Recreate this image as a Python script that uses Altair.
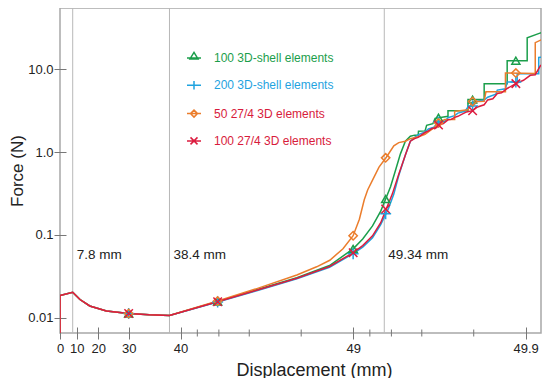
import altair as alt
import pandas as pd

FONT = "Liberation Sans, Arial, Helvetica, sans-serif"

SERIES = ["100 3D-shell elements", "200 3D-shell elements",
          "50 27/4 3D elements", "100 27/4 3D elements"]
COLORS = ["#1b9e4b", "#1fa3df", "#eb7d2c", "#dc1c3f"]

# shared first part of every curve (displacement mm, force N)
BASE_DISP = [0, 0, 7.8, 10.0, 11.7, 16.4, 23.1, 30, 34.8, 38.4]
BASE_FORCE = [0.001, 0.0184, 0.0202, 0.0181, 0.0165, 0.0138, 0.0120, 0.0112, 0.0108, 0.0106]

GREEN_DISP = [43.9, 46.42, 47.88, 48.63, 49.0, 49.12, 49.228, 49.308, 49.352, 49.393, 49.432,
              49.468, 49.502, 49.534, 49.56, 49.58, 49.582, 49.617, 49.625, 49.655, 49.665,
              49.718, 49.718, 49.784, 49.784, 49.826, 49.826, 49.872, 49.872, 49.902, 49.902,
              49.918, 49.93]
GREEN_FORCE = [0.0156, 0.0218, 0.0303, 0.0425, 0.0676, 0.089, 0.128, 0.193, 0.27, 0.381, 0.602,
               0.95, 1.35, 1.55, 1.60, 1.60, 1.78, 1.80, 2.1, 2.2, 2.55,
               2.70, 3.16, 3.16, 4.3, 4.3, 6.7, 6.7, 12.7, 12.7, 24.0,
               27.5, 28.5]

BLUE_DISP = [43.9, 46.42, 47.88, 48.63, 49.0, 49.12, 49.228, 49.308, 49.377, 49.419, 49.456,
             49.502, 49.534, 49.56, 49.582, 49.617, 49.634, 49.66, 49.68, 49.706, 49.718,
             49.742, 49.753, 49.775, 49.784, 49.797, 49.81, 49.826, 49.834, 49.851, 49.854,
             49.869, 49.872, 49.888, 49.888, 49.916, 49.916, 49.93]
BLUE_FORCE = [0.0154, 0.0212, 0.0293, 0.0405, 0.059, 0.071, 0.092, 0.133, 0.21, 0.31, 0.52,
              0.92, 1.35, 1.50, 1.62, 1.75, 1.90, 2.0, 2.3, 2.35, 2.6,
              2.75, 2.95, 3.1, 3.5, 3.6, 4.1, 4.25, 4.6, 5.0, 5.6,
              5.8, 7.0, 7.0, 8.8, 8.8, 13.9, 14.2]

ORANGE_DISP = [43.9, 46.42, 47.88, 48.373, 48.634, 48.855, 49.0, 49.08, 49.138, 49.176, 49.228,
               49.292, 49.358, 49.419, 49.456, 49.502, 49.534, 49.564, 49.59, 49.617, 49.64,
               49.66, 49.679, 49.706, 49.742, 49.742, 49.784, 49.797, 49.81, 49.826, 49.830,
               49.869, 49.869, 49.912, 49.912, 49.918, 49.93]
ORANGE_FORCE = [0.0158, 0.0225, 0.0326, 0.0410, 0.0492, 0.0677, 0.0973, 0.154, 0.265, 0.348, 0.458,
                0.658, 0.865, 1.19, 1.30, 1.35, 1.45, 1.50, 1.55, 1.64, 1.80,
                1.95, 2.25, 2.47, 2.47, 3.10, 3.24, 4.07, 4.07, 4.1, 5.35,
                5.35, 9.0, 8.9, 21.0, 22.5, 23.5]

RED_DISP = [43.9, 46.42, 47.88, 48.63, 49.0, 49.12, 49.228, 49.308, 49.358, 49.407, 49.456,
            49.502, 49.534, 49.56, 49.58, 49.60, 49.617, 49.634, 49.65, 49.672, 49.68,
            49.70, 49.718, 49.73, 49.742, 49.753, 49.765, 49.78, 49.797, 49.81, 49.826,
            49.834, 49.845, 49.854, 49.862, 49.872, 49.886, 49.897, 49.906, 49.912, 49.918,
            49.93]
RED_FORCE = [0.0155, 0.0215, 0.0298, 0.0414, 0.0607, 0.074, 0.097, 0.140, 0.206, 0.31, 0.54,
             0.92, 1.35, 1.45, 1.50, 1.62, 1.72, 1.80, 1.92, 1.97, 2.12,
             2.20, 2.45, 2.48, 2.62, 2.70, 2.85, 3.05, 3.16, 3.50, 3.72,
             4.26, 4.40, 5.1, 5.2, 5.86, 6.71, 7.36, 8.45, 8.6, 11.1,
             11.5]

# marker positions
MARK_DISP = [30, 43.9, 49.0, 49.352, 49.68, 49.797, 49.886]
GREEN_MARK = [0.0112, 0.0156, 0.0676, 0.27, 2.6, 4.3, 12.7]
BLUE_MARK = [0.0112, 0.0154, 0.059, 0.18, 2.3, 3.6, 7.0]
ORANGE_MARK = [0.0112, 0.0158, 0.0973, 0.85, 2.25, 4.07, 9.0]
RED_MARK = [0.0112, 0.0155, 0.0607, 0.205, 2.12, 3.16, 6.71]

ANNOT_DISP = [7.8, 38.4, 49.34]
ANNOT_TEXT = ["7.8 mm", "38.4 mm", "49.34 mm"]

X_TICKS = [0, 10, 20, 30, 40, 49, 49.9]
X_MINOR = [42, 44, 46, 48, 49.2, 49.4, 49.6, 49.8]
Y_TICKS = [0.01, 0.1, 1, 10]

TAILS = [(GREEN_DISP, GREEN_FORCE), (BLUE_DISP, BLUE_FORCE),
         (ORANGE_DISP, ORANGE_FORCE), (RED_DISP, RED_FORCE)]
MARKS = [GREEN_MARK, BLUE_MARK, ORANGE_MARK, RED_MARK]

rows = []
for s, (d, f) in zip(SERIES, TAILS):
    for xv, yv in zip(BASE_DISP + d, BASE_FORCE + f):
        rows.append({"series": s, "disp": xv, "force": yv})
lines_df = pd.DataFrame(rows)
lines_df["idx"] = range(len(lines_df))

mrows = []
for s, m in zip(SERIES, MARKS):
    for xv, yv in zip(MARK_DISP, m):
        mrows.append({"series": s, "disp": xv, "force": yv})
marks_df = pd.DataFrame(mrows)

annot_df = pd.DataFrame({"disp": ANNOT_DISP, "label": ANNOT_TEXT})
minor_df = pd.DataFrame({"disp": X_MINOR})

WIDTH, HEIGHT = 481, 325
END = 50.0  # displacement axis is logarithmic in (50 - displacement)

x_scale = alt.Scale(type="log", domain=[0.0815, 50], reverse=True, nice=False, zero=False)
y_scale = alt.Scale(type="log", domain=[0.0065, 55], nice=False, zero=False)

x_axis = alt.Axis(values=[END - v for v in X_TICKS],
                  labelExpr="format(50 - datum.value, '.4~g')",
                  offset=-6, tickSize=12, domain=False, grid=False, labelPadding=3,
                  labelFlush=False, labelOverlap=False, labelFontSize=13, labelFont=FONT,
                  labelColor="#222", tickColor="#777", titleFontSize=18, titleFont=FONT,
                  titleFontWeight="normal", titleColor="#222", titlePadding=6,
                  titleX=254)
y_axis = alt.Axis(values=Y_TICKS,
                  labelExpr="datum.value >= 1 ? format(datum.value, '.1f') : format(datum.value, '~g')",
                  offset=-6, tickSize=12, domain=False, grid=False, labelPadding=1,
                  labelFlush=False, labelOverlap=False, labelFontSize=13, labelFont=FONT,
                  labelColor="#222", tickColor="#777", titleFontSize=17, titleFont=FONT,
                  titleFontWeight="normal", titleColor="#222", titlePadding=1)

X = alt.X("u:Q", scale=x_scale, axis=x_axis, title="Displacement (mm)")
Y = alt.Y("force:Q", scale=y_scale, axis=y_axis, title="Force (N)")
U = "50 - datum.disp"

color_scale = alt.Scale(domain=SERIES, range=COLORS)

rules = alt.Chart(annot_df).transform_calculate(u=U).mark_rule(
    color="#b8b8b8", strokeWidth=1).encode(x=X)

line_layers = []
for s, col in zip(SERIES, COLORS):
    line_layers.append(
        alt.Chart(lines_df).transform_filter(alt.datum.series == s).transform_calculate(u=U)
        .mark_line(strokeWidth=1.5, clip=True, color=col)
        .encode(x=X, y=Y, order="idx:Q")
    )

SHAPES = ["triangle-up", "M-1,0L1,0M0,-1L0,1", "diamond", "M-1,-1L1,1M-1,1L1,-1"]
SIZES = [64, 121, 70, 72]
marker_layers = []
for s, shp, sz, col in zip(SERIES, SHAPES, SIZES, COLORS):
    marker_layers.append(
        alt.Chart(marks_df).transform_filter(alt.datum.series == s).transform_calculate(u=U)
        .mark_point(shape=shp, size=sz, filled=False, strokeWidth=1.5, color=col, opacity=1)
        .encode(x=X, y=Y)
    )

LEGEND_PATHS = [
    "M-2,0L2,0M0,-1.6L1.15,0.25L-1.15,0.25Z",
    "M-2,0L2,0M0,-1.2L0,1.2",
    "M-2,0L2,0M0,-1L1,0L0,1L-1,0Z",
    "M-2,0L2,0M-1,-1L1,1M-1,1L1,-1",
]
label_color_expr = ("datum.label == '100 3D-shell elements' ? '#1b9e4b' : "
                    "datum.label == '200 3D-shell elements' ? '#1fa3df' : '#d81b3c'")
LEG = alt.Legend(title=None, orient="none", legendX=128, legendY=44, padding=0,
                 labelFontSize=12, labelFont=FONT, labelColor=alt.ExprRef(expr=label_color_expr),
                 symbolSize=49, symbolStrokeWidth=1.5, symbolOpacity=1,
                 rowPadding=13.3, labelOffset=14)

legend_layer = alt.Chart(marks_df).transform_calculate(u=U).mark_point(
    opacity=0, filled=False, strokeWidth=1.5).encode(
    x=X, y=Y,
    color=alt.Color("series:N", scale=color_scale, legend=LEG),
    shape=alt.Shape("series:N", scale=alt.Scale(domain=SERIES, range=LEGEND_PATHS), legend=LEG),
)

texts = alt.Chart(annot_df).transform_calculate(u=U).mark_text(
    align="left", baseline="middle", dx=4, fontSize=13.5, font=FONT, color="#222"
).encode(x=X, y=alt.value(247), text="label:N")

minor = alt.Chart(minor_df).transform_calculate(u=U).mark_rule(
    color="#777", strokeWidth=1).encode(x=X, y=alt.value(HEIGHT - 3.5), y2=alt.value(HEIGHT + 3.5))

chart = alt.layer(rules, *line_layers, *marker_layers, legend_layer, texts, minor).properties(
    width=WIDTH, height=HEIGHT,
    autosize=alt.AutoSizeParams(type="none"),
    padding={"left": 52, "top": 0, "right": 1, "bottom": 45},
).configure_view(stroke="#a8a8a8", strokeWidth=1.5)

chart.save("out.html", embed_options={"renderer": "svg", "actions": False})
